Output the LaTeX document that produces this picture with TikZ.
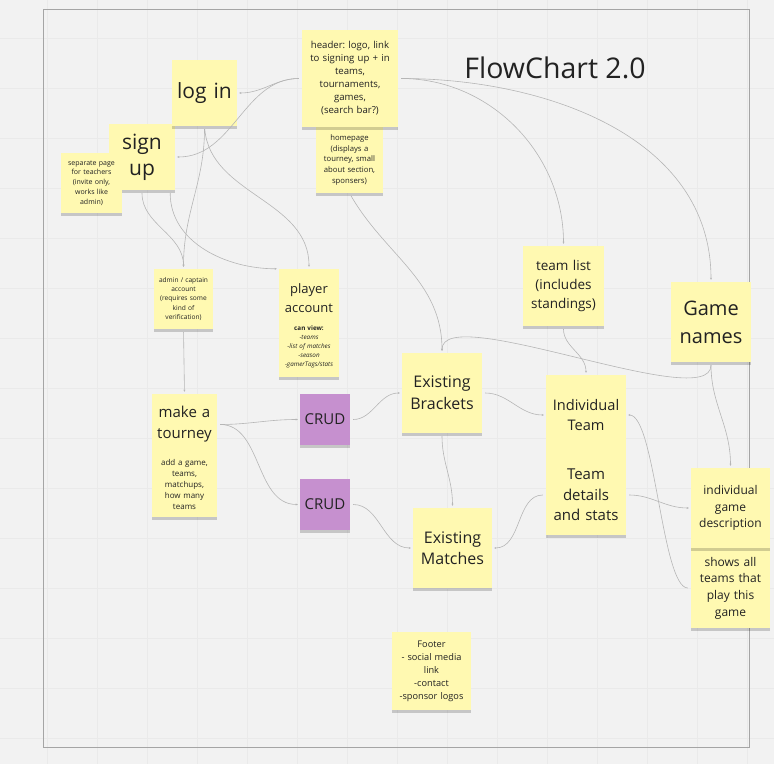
\documentclass[tikz,border=0pt]{standalone}
\usepackage{fontspec}
\setmainfont{Open Sans}
\usetikzlibrary{arrows.meta, shadows}
\definecolor{board}{RGB}{242, 242, 242}
\definecolor{gridgray}{RGB}{234, 234, 234}
\definecolor{framegray}{RGB}{165, 165, 165}
\definecolor{linkgray}{RGB}{182, 182, 182}
\definecolor{stickyyellow}{RGB}{255, 249, 177}
\definecolor{stickyviolet}{RGB}{198, 144, 207}
\definecolor{inkgray}{RGB}{34, 34, 34}
\newcommand{\fsz}[2]{\fontsize{#1pt}{#2pt}\selectfont}
\frenchspacing

\begin{document}
\begin{tikzpicture}[x=1pt, y=1pt,
  sticky/.style={fill=stickyyellow, minimum width=80pt, minimum height=80pt, text width=76pt, inner sep=0pt, align=center, text=inkgray, general shadow={fill=black, opacity=0.18, shadow yshift=-3pt}},
  crud/.style={sticky, fill=stickyviolet, minimum width=50pt, minimum height=51pt, text width=48pt, font=\fsz{15}{18}},
  link/.style={draw=linkgray, line width=0.6pt, -{Stealth[length=2.2pt, width=2pt]}, shorten <=3pt, shorten >=2pt}
]
  \useasboundingbox (0,0) rectangle (774,764);
  \fill[board] (0,0) rectangle (774,764);
  \foreach \gx in {47,97,...,747} \draw[gridgray, line width=0.6pt] (\gx,0) -- (\gx,764);
  \foreach \gy in {26,76,...,726} \draw[gridgray, line width=0.6pt] (0,\gy) -- (774,\gy);
  \draw[framegray, line width=1pt] (43,17) rectangle (749,754);

  \node[font=\fsz{28.5}{34}, text=inkgray] (title) at (555,696) {FlowChart 2.0};

  % top of the site
  \node[sticky, minimum width=67pt, minimum height=66pt, text width=64pt, font=\fsz{7.7}{10.7}] (homepage) at (349.5,604) {homepage\\(displays a\\tourney, small\\about section,\\sponsers)};
  \node[sticky, minimum width=96pt, minimum height=97pt, text width=92pt, font=\fsz{9.6}{13}] (header) at (350,685.5) {header: logo, link\\to signing up + in\\teams,\\tournaments,\\games,\\(search bar?)};
  \node[sticky, minimum width=66pt, minimum height=66pt, text width=64pt, font=\fsz{21}{26}] (signup) at (142,607) {sign\\up};
  \node[sticky, minimum width=65pt, minimum height=66pt, text width=63pt, font=\fsz{21}{26}] (login) at (204.5,671) {log in};
  \node[sticky, minimum width=61pt, minimum height=60pt, text width=59pt, font=\fsz{7}{9.75}] (teacherpage) at (91.5,581) {separate page\\for teachers\\(invite only,\\works like\\admin)};

  % accounts
  \node[sticky, minimum width=59pt, minimum height=60pt, text width=58pt, font=\fsz{6.6}{9.2}] (admin) at (183.5,465) {admin / captain\\account\\(requires some\\kind of\\verification)};
  \node[sticky, minimum width=60pt, minimum height=58pt, text width=59pt, font=\fsz{13}{18.5}] (player) at (309,466) {player\\account};
  \node[sticky, minimum width=60pt, minimum height=60pt, text width=59pt, font=\fsz{6.3}{9}] (playerview) at (309,417) {\textbf{can view:}\\\textit{-teams}\\\textit{-list of matches}\\\textit{-season}\\\textit{-gamerTags/stats}};

  % tourneys
  \node[sticky, minimum width=65pt, minimum height=61pt, text width=63pt, font=\fsz{15}{21}] (tourney) at (184.5,339.5) {make a\\tourney};
  \node[sticky, minimum width=65pt, minimum height=65pt, text width=63pt, font=\fsz{8}{10.8}] (tourneyinfo) at (184.5,279.5) {add a game,\\teams,\\matchups,\\how many\\teams};
  \node[crud] (crudbrackets) at (325,344.5) {CRUD};
  \node[crud] (crudmatches) at (325,259.5) {CRUD};
  \node[sticky, font=\fsz{16}{22}] (brackets) at (442,371) {Existing\\Brackets};
  \node[sticky, minimum width=79pt, font=\fsz{16}{21}] (matches) at (452.5,216) {Existing\\Matches};

  % teams and games
  \node[sticky, minimum width=81pt, font=\fsz{13.5}{19}] (teamlist) at (563.5,478) {team list\\(includes\\standings)};
  \node[sticky, font=\fsz{20}{28}] (gamenames) at (711,442) {Game\\names};
  \node[sticky, font=\fsz{14.6}{20}] (indivteam) at (586,349) {Individual\\Team};
  \node[sticky, font=\fsz{15}{20.5}] (teamdetails) at (586,269) {Team\\details\\and stats};
  \node[sticky, minimum width=79pt, font=\fsz{12}{16.7}] (gameteams) at (730.5,176) {shows all\\teams that\\play this\\game};
  \node[sticky, minimum width=79pt, font=\fsz{12}{16.5}] (gamedesc) at (730.5,256) {individual\\game\\description};

  \node[sticky, minimum width=79pt, minimum height=78pt, font=\fsz{9.2}{13}] (footer) at (431.5,93) {Footer\\- social media\\link\\-contact\\-sponsor logos};

  % connectors
  \draw[link] (header.west) to[out=180, in=0] (login.east);
  \draw[link] (header.west) to[out=180, in=0] (signup.east);
  \draw[link] (header.east) to[out=0, in=90] (teamlist.north);
  \draw[link] (header.east) to[out=0, in=90] (gamenames.north);
  \draw[link] (login.south) to[out=-90, in=90] (admin.north);
  \draw[link] (login.south) to[out=-85, in=90] (player.north);
  \draw[link] (signup.south) to[out=-90, in=90] (admin.north);
  \draw[link] ([xshift=-5pt]signup.south east) to[out=-90, in=180] (player.north west);
  \draw[link] (homepage.south) to[out=-60, in=90] (brackets.north);
  \draw[link] (gamenames.south) to[out=-90, in=90, looseness=0.5] (brackets.north);
  \draw[link] (teamlist.south) to[out=-90, in=90] (indivteam.north);
  \draw[link] (admin.south) -- (tourney.north);
  \draw[link] (tourney.east) to[out=0, in=180] (crudbrackets.west);
  \draw[link] (tourney.east) to[out=0, in=180] (crudmatches.west);
  \draw[link] (crudbrackets.east) to[out=0, in=180] (brackets.west);
  \draw[link] (crudmatches.east) to[out=0, in=180] (matches.west);
  \draw[link] (brackets.east) to[out=0, in=180] (indivteam.west);
  \draw[link] (brackets.south) to[out=-90, in=90] (matches.north);
  \draw[link] (teamdetails.west) to[out=180, in=0] (matches.east);
  \draw[link] (teamdetails.east) to[out=0, in=180] (gamedesc.west);
  \draw[link] (gameteams.west) to[out=180, in=0, looseness=0.4] (indivteam.east);
  \draw[link] (gamenames.south) to[out=-90, in=90] (gamedesc.north);
\end{tikzpicture}
\end{document}
